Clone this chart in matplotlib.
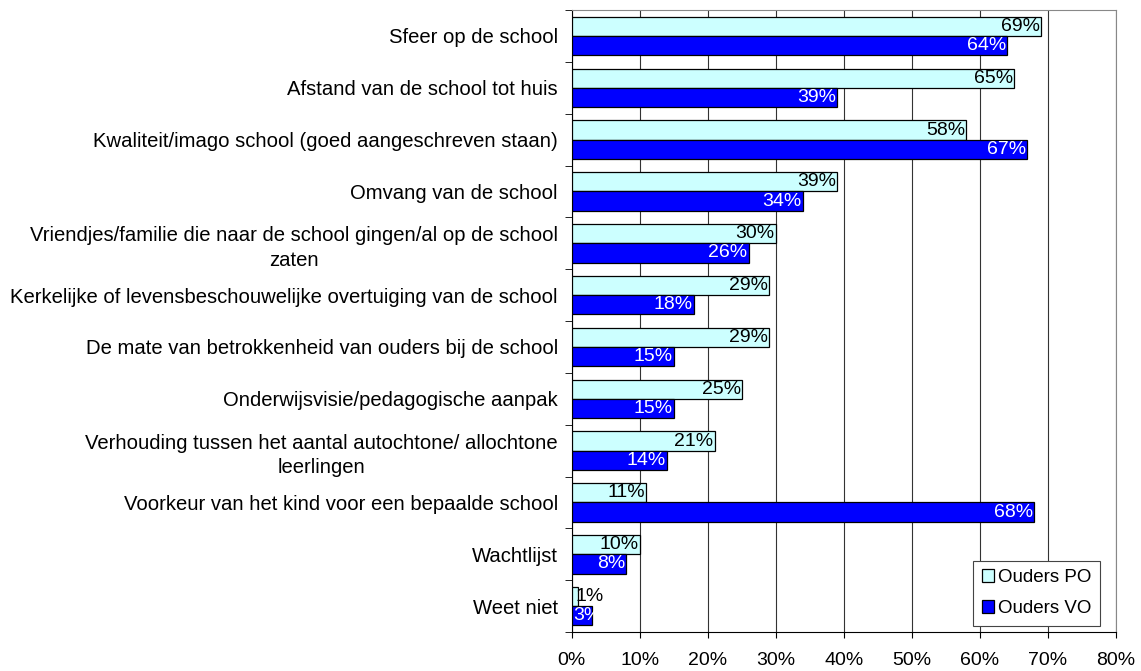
import numpy as np
import matplotlib
matplotlib.use('Agg')
import matplotlib.pyplot as plt
from matplotlib.ticker import FuncFormatter

plt.rcParams['font.family'] = ['Liberation Sans', 'DejaVu Sans']

# categorieen, van boven naar beneden
categories = [
    'Sfeer op de school',
    'Afstand van de school tot huis',
    'Kwaliteit/imago school (goed aangeschreven staan)',
    'Omvang van de school',
    'Vriendjes/familie die naar de school gingen/al op de school\nzaten',
    'Kerkelijke of levensbeschouwelijke overtuiging van de school',
    'De mate van betrokkenheid van ouders bij de school',
    'Onderwijsvisie/pedagogische aanpak',
    'Verhouding tussen het aantal autochtone/ allochtone\nleerlingen',
    'Voorkeur van het kind voor een bepaalde school',
    'Wachtlijst',
    'Weet niet',
]
ouders_po = [69, 65, 58, 39, 30, 29, 29, 25, 21, 11, 10, 1]
ouders_vo = [64, 39, 67, 34, 26, 18, 15, 15, 14, 68, 8, 3]
x_ticks = [0, 10, 20, 30, 40, 50, 60, 70, 80]

FS = 14
FS_CAT = 14.6

fig = plt.figure(figsize=(11.41, 6.71), dpi=100)
ax = fig.add_axes([0.501, 0.058, 0.477, 0.927])

n = len(categories)
y = np.arange(n)[::-1].astype(float)  # bovenste categorie bovenaan
h = 0.37

bars_po = ax.barh(y + h / 2, ouders_po, height=h, color='#ccffff', edgecolor='black',
                  linewidth=0.9, label='Ouders PO', zorder=3)
bars_vo = ax.barh(y - h / 2, ouders_vo, height=h, color='#0000ff', edgecolor='black',
                  linewidth=0.9, label='Ouders VO', zorder=3)

# labels aan het eind van de balken
for b, v in zip(bars_po, ouders_po):
    yc = b.get_y() + b.get_height() / 2
    if v < 4:
        ax.text(0.5, yc, f'{v}%', ha='left', va='center', fontsize=FS, color='black', zorder=4)
    else:
        ax.text(v - 0.15, yc, f'{v}%', ha='right', va='center', fontsize=FS, color='black', zorder=4)
for b, v in zip(bars_vo, ouders_vo):
    yc = b.get_y() + b.get_height() / 2
    if v < 4:
        t = ax.text(0.3, yc, f'{v}%', ha='left', va='center', fontsize=FS, color='white', zorder=4)
        t.set_clip_path(b)
    else:
        ax.text(v - 0.15, yc, f'{v}%', ha='right', va='center', fontsize=FS, color='white', zorder=4)

ax.set_xlim(0, 80)
ax.set_ylim(-0.5, n - 0.5)
ax.set_xticks(x_ticks)
ax.xaxis.set_major_formatter(FuncFormatter(lambda v, p: f'{v:.0f}%'))
ax.tick_params(axis='x', labelsize=FS, length=4, direction='out', pad=10)
ax.grid(axis='x', color='#333333', linewidth=0.8, zorder=0)

ax.set_yticks(y)
ax.set_yticklabels(categories, fontsize=FS_CAT, multialignment='center', linespacing=1.35)
ax.tick_params(axis='y', length=0, pad=10)
# scheidingsstreepjes tussen categorieen
ax.set_yticks(np.arange(n + 1) - 0.5, minor=True)
ax.tick_params(axis='y', which='minor', length=5, direction='out')

for side in ['top', 'right']:
    ax.spines[side].set_color('#888888')
for side in ['left', 'bottom']:
    ax.spines[side].set_color('black')

leg = ax.legend(loc='lower right', bbox_to_anchor=(0.982, 0.0), fontsize=13.5,
                handlelength=0.65, handleheight=0.65, handletextpad=0.2,
                labelspacing=0.75, borderpad=0.45, borderaxespad=0.35, fancybox=False,
                edgecolor='#444444', framealpha=1)
leg.get_frame().set_linewidth(0.8)

fig.savefig('out.png', dpi=100)
